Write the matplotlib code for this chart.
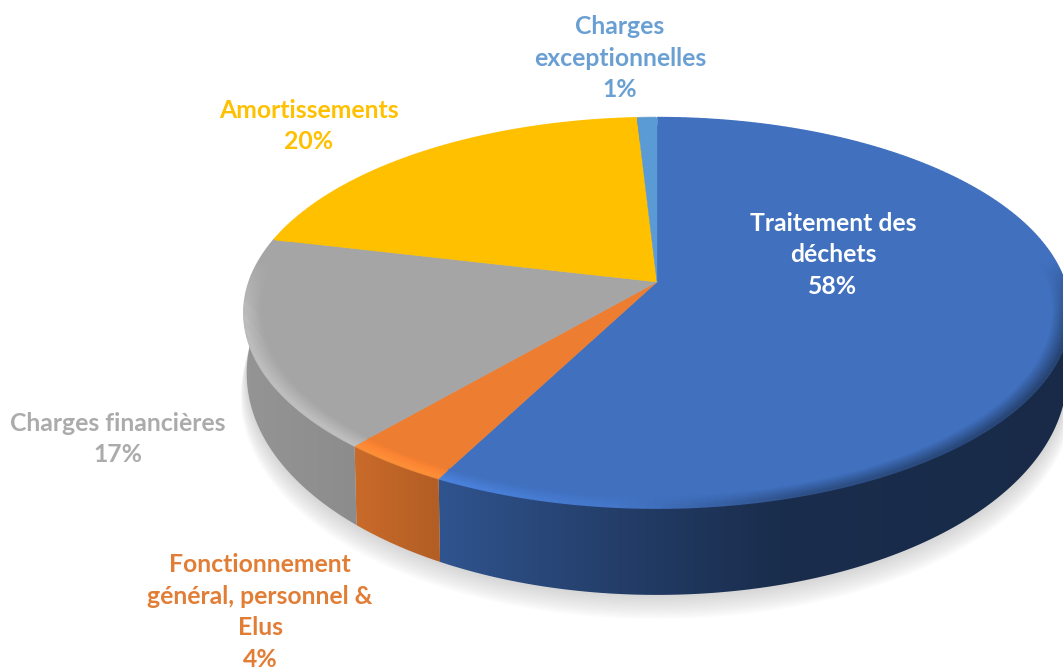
import numpy as np
import matplotlib
matplotlib.use('Agg')
import matplotlib.pyplot as plt
from matplotlib.collections import LineCollection
from matplotlib.patches import Polygon
from matplotlib.colors import to_rgb

# slices, clockwise from 12 o'clock (labels show the rounded values)
names = ['Traitement des\ndéchets', 'Fonctionnement\ngénéral, personnel &\nElus',
         'Charges financières', 'Amortissements', 'Charges\nexceptionnelles']
values = [57.6, 3.7, 17.4, 20.4, 0.9]
percents = ['58%', '4%', '17%', '20%', '1%']
colors = ['#4070BE', '#ED7D31', '#A5A5A5', '#FFC000', '#5B9BD5']
label_colors = ['#FFFFFF', '#E27D36', '#ABABAB', '#FFC000', '#6A9FD3']
label_pos = [(833, 255), (260, 612), (118, 439), (309, 126), (620, 58)]

# perspective of the disc in pixels
CX, CY = 657, 282
R, S, K = 408, 190, 0.159


def project(theta, r=1.0):
    # theta clockwise from top, gives the point on the top face
    u, v = r * np.sin(theta), r * np.cos(theta)
    w = 1 + K * v
    return CX + R * u / w, CY - S * v / w


def project_bottom(theta):
    x, y = project(theta)
    u, v = np.sin(theta), np.cos(theta)
    return x - 3 * u, y + 55 - 32 * v


def wall_shade(x):
    return np.interp(x, [243, 355, 440, 600, 780, 1063], [.9, .85, .75, .57, .40, .38])


fig = plt.figure(figsize=(10.63, 6.7), dpi=100)
ax = fig.add_axes([0, 0, 1, 1])
ax.set_xlim(0, 1063)
ax.set_ylim(670, 0)
ax.axis('off')

# soft shadow under the disc
t = np.linspace(0, 2 * np.pi, 400)
bx, by = project_bottom(t)
for off in range(24, 0, -2):
    ax.fill(bx + off * 0.25 * np.sin(t), by + off, color='#707070', alpha=0.022, lw=0, zorder=1)

edges = np.radians(np.cumsum([0] + values) * 3.6)

# outer wall with horizontal gradient
xs = np.arange(240, 1064)
for i, col in enumerate(colors):
    th = np.linspace(edges[i], edges[i + 1], 200)
    x0, y0 = project(th)
    x1, y1 = project_bottom(th)
    poly = Polygon(np.r_[np.c_[x0, y0], np.c_[x1, y1][::-1]], closed=True, transform=ax.transData,
                   fc='none', ec='none')
    ax.add_patch(poly)
    grad = wall_shade(xs)[None, :, None] * np.array(to_rgb(col))[None, None, :]
    im = ax.imshow(grad, extent=(240, 1064, 670, 0), aspect='auto', zorder=2, interpolation='bilinear')
    im.set_clip_path(poly)
ax.set_xlim(0, 1063)
ax.set_ylim(670, 0)

# top face
for i, col in enumerate(colors):
    th = np.linspace(edges[i], edges[i + 1], 200)
    x0, y0 = project(th)
    ax.fill(np.r_[CX, x0], np.r_[CY, y0], color=col, lw=0.3, ec=col, zorder=3)

# bevel along the front rim, inner layers first so it fades into the face
for i, col in enumerate(colors):
    th = np.linspace(edges[i], edges[i + 1], 200)
    base = np.array(to_rgb(col))
    for k, r in enumerate(np.linspace(0.962, 0.998, 10)):
        gain = (k + 1) / 10
        x0, y0 = project(th, r)
        seg = np.stack([np.c_[x0[:-1], y0[:-1]], np.c_[x0[1:], y0[1:]]], axis=1)
        f = np.interp(x0[:-1], [243, 440, 620, 800, 1063], [1.16, 1.16, 1.06, .72, .6])
        w = np.clip((0.12 - np.cos(th[:-1])) / 0.3, 0, 1) * gain
        cols = np.clip(base[None, :] * (1 + (f - 1) * w)[:, None], 0, 1)
        ax.add_collection(LineCollection(seg, colors=cols, linewidths=2.2, capstyle='butt', zorder=4))

# labels
for i in range(len(names)):
    ax.text(label_pos[i][0], label_pos[i][1], names[i] + '\n' + percents[i], color=label_colors[i],
            ha='center', va='center', ma='center', fontsize=17.8, fontweight='bold', family='Lato',
            linespacing=1.47, zorder=5)

fig.savefig('out.png', dpi=100)
